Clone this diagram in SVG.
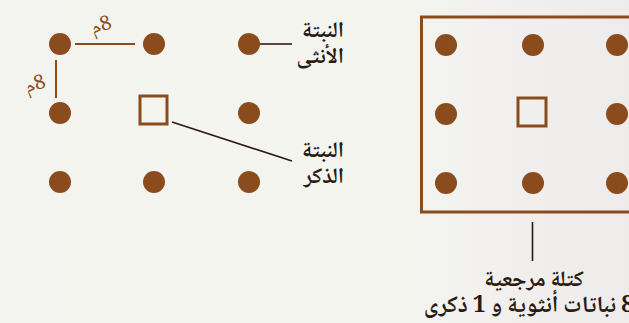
<svg xmlns="http://www.w3.org/2000/svg" width="629" height="323" viewBox="0 0 629 323">
<defs>
<linearGradient id="bg" x1="0" y1="0" x2="1" y2="0">
<stop offset="0" stop-color="#f3f4ef"/>
<stop offset="0.6" stop-color="#f4f5ef"/>
<stop offset="0.8" stop-color="#f1f0ef"/>
<stop offset="1" stop-color="#eeeceb"/>
</linearGradient>
<style>
.dot{fill:#8b4c1d}
.sq{fill:none;stroke:#8b4c1d;stroke-width:3}
.bl{stroke:#8b4c1d;stroke-width:2}
.dl{stroke:#2a1c12;stroke-width:1.6}
.lab{font-family:"Noto Naskh Arabic","DejaVu Sans",sans-serif;font-weight:bold;font-size:22px;fill:#2a1c12}
.m{font-family:"Noto Naskh Arabic","DejaVu Sans",sans-serif;font-size:20px;fill:#8b4c1d}
</style>
</defs>
<rect width="629" height="323" fill="url(#bg)"/>
<g id="connectors">
<line class="bl" x1="75" y1="44" x2="135" y2="44"/>
<line class="bl" x1="56" y1="60" x2="56" y2="98"/>
<line class="dl" x1="260" y1="44" x2="292" y2="44"/>
<line class="dl" x1="172" y1="122" x2="292" y2="161"/>
<line class="dl" x1="532.5" y1="222" x2="532.5" y2="261"/>
</g>
<g id="left-grid">
<circle class="dot" cx="60" cy="44" r="11"/>
<circle class="dot" cx="154" cy="44" r="11"/>
<circle class="dot" cx="249" cy="44" r="11"/>
<circle class="dot" cx="60" cy="113" r="11"/>
<rect class="sq" x="140" y="96" width="27" height="28"/>
<circle class="dot" cx="249" cy="113" r="11"/>
<circle class="dot" cx="60" cy="182" r="11"/>
<circle class="dot" cx="154" cy="182" r="11"/>
<circle class="dot" cx="249" cy="182" r="11"/>
</g>
<g id="dist-labels">
<text class="m" direction="rtl" text-anchor="middle" transform="translate(103 31) rotate(-18)">8م</text>
<text class="m" direction="rtl" text-anchor="middle" transform="translate(37 90) rotate(-18)">8م</text>
</g>
<g id="female-label">
<text class="lab" direction="rtl" x="344" y="37">النبتة</text>
<text class="lab" direction="rtl" x="344" y="63">الأنثى</text>
</g>
<g id="male-label">
<text class="lab" direction="rtl" x="344" y="157">النبتة</text>
<text class="lab" direction="rtl" x="344" y="183">الذكر</text>
</g>
<g id="reference-block">
<rect x="421.5" y="17" width="220" height="195" fill="none" stroke="#8b4c1d" stroke-width="3"/>
<circle class="dot" cx="446" cy="45" r="11"/>
<circle class="dot" cx="533" cy="45" r="11"/>
<circle class="dot" cx="617" cy="45" r="11"/>
<circle class="dot" cx="446" cy="114" r="11"/>
<rect class="sq" x="518" y="98" width="28" height="28"/>
<circle class="dot" cx="617" cy="114" r="11"/>
<circle class="dot" cx="446" cy="183" r="11"/>
<circle class="dot" cx="533" cy="183" r="11"/>
<circle class="dot" cx="617" cy="183" r="11"/>
</g>
<g id="block-label">
<text class="lab" direction="rtl" text-anchor="middle" x="534" y="286">كتلة مرجعية</text>
<text class="lab" direction="rtl" text-anchor="start" x="634" y="312" style="font-size:23px">8 نباتات أنثوية و 1 ذكرى</text>
</g>
</svg>
